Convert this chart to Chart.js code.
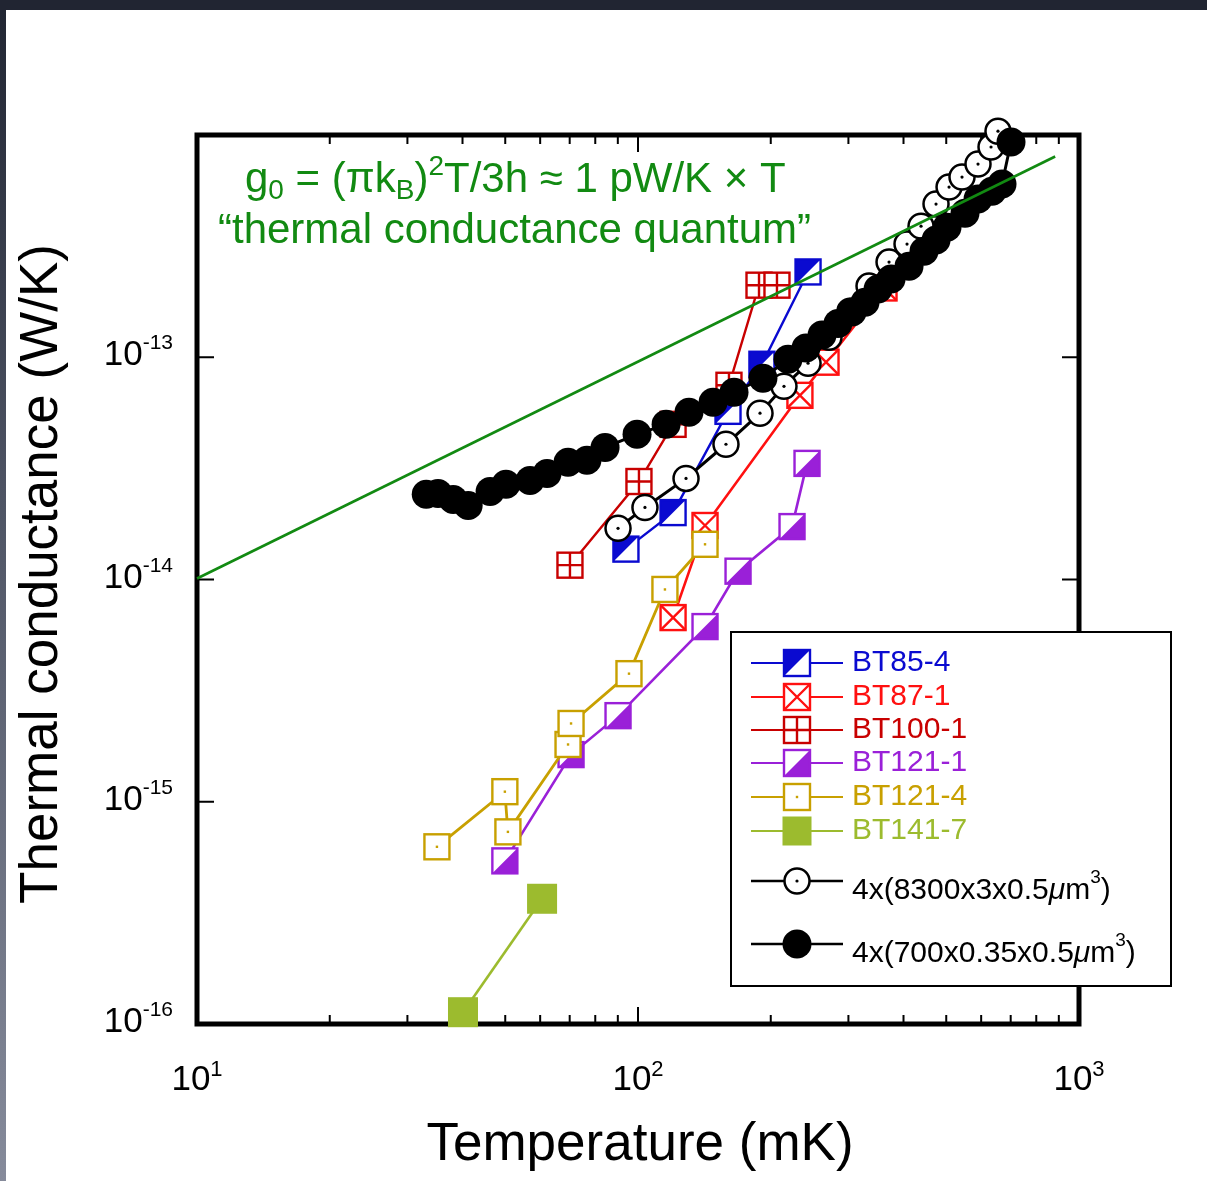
<!DOCTYPE html>
<html>
<head>
<meta charset="utf-8">
<script src="https://cdn.jsdelivr.net/npm/chart.js@4.4.1/dist/chart.umd.min.js"></script>
<style>
  html, body { margin: 0; padding: 0; background: #fff; overflow: hidden; }
  canvas { display: block; }
</style>
</head>
<body>
<canvas id="chart" width="1207" height="1181"></canvas>
<script>
const FONT = '"Liberation Sans", Arial, Helvetica, sans-serif';

// temperature in mK, thermal conductance in W/K
const bt85T = [93.9, 120.1, 160.0, 191.0, 243.0];
const bt85G = [1.37e-14, 2.00e-14, 5.71e-14, 9.30e-14, 2.42e-13];

const bt87T = [120.1, 141.9, 232.9, 266.9, 361.3];
const bt87G = [6.74e-15, 1.75e-14, 6.74e-14, 9.5e-14, 2.05e-13];

const bt100T = [70.1, 100.5, 120.1, 160.8, 188.1, 206.6];
const bt100G = [1.16e-14, 2.76e-14, 4.99e-14, 7.48e-14, 2.11e-13, 2.11e-13];

const bt1211T = [49.9, 70.5, 90.1, 141.9, 168.6, 223.5, 241.7];
const bt1211G = [5.42e-16, 1.63e-15, 2.44e-15, 6.14e-15, 1.09e-14, 1.73e-14, 3.33e-14];

const bt1214T = [35.0, 49.9, 50.7, 69.4, 70.5, 95.4, 115.1, 141.9];
const bt1214G = [6.27e-16, 1.11e-15, 7.32e-16, 1.81e-15, 2.25e-15, 3.77e-15, 9.02e-15, 1.44e-14];

const bt1417T = [40.1, 60.6];
const bt1417G = [1.13e-16, 3.66e-16];

const wideT = [90.1, 103.7, 128.5, 158.3, 189.1, 214.3, 243.0, 271.1, 302.5, 334.1,
               370.9, 407.4, 438.3, 474.0, 507.4, 542.9, 590.2, 631.7, 655.1];
const wideG = [1.70e-14, 2.11e-14, 2.85e-14, 4.06e-14, 5.60e-14, 7.40e-14, 9.40e-14, 1.23e-13, 1.61e-13, 2.09e-13,
               2.68e-13, 3.23e-13, 3.89e-13, 4.89e-13, 5.83e-13, 6.47e-13, 7.40e-13, 8.83e-13, 1.04e-12];

const narrowT = [33.1, 35.2, 38.1, 41.2, 46.2, 50.2, 56.9, 62.2, 69.4, 76.6, 84.2, 99.5,
                 115.8, 130.5, 148.0, 165.1, 192.0, 218.9, 240.4, 261.4, 284.1, 305.7, 327.2,
                 350.2, 374.8, 411.7, 445.2, 474.0, 502.0, 551.4, 590.2, 634.9, 669.0, 701.2];
const narrowG = [2.42e-14, 2.44e-14, 2.29e-14, 2.15e-14, 2.49e-14, 2.68e-14, 2.79e-14, 3.00e-14,
                 3.37e-14, 3.44e-14, 3.93e-14, 4.50e-14, 4.99e-14, 5.65e-14, 6.27e-14, 6.96e-14,
                 8.04e-14, 9.79e-14, 1.10e-13, 1.26e-13, 1.42e-13, 1.60e-13, 1.77e-13, 2.03e-13,
                 2.25e-13, 2.57e-13, 3.00e-13, 3.37e-13, 3.85e-13, 4.45e-13, 5.15e-13, 5.59e-13,
                 6.02e-13, 9.30e-13];

const quantumT = [10, 883];
const quantumG = [1.01e-14, 8.0e-13];

const xTickMajor = [10, 100, 1000];
const xTickMinor = [20, 30, 40, 50, 60, 70, 80, 90, 200, 300, 400, 500, 600, 700, 800, 900];
const yTicks = [1e-16, 1e-15, 1e-14, 1e-13, 1e-12];

function pts(xs, ys) {
  return xs.map((x, i) => ({ x: x, y: ys[i] }));
}

function series(label, xs, ys, color, marker, width, order) {
  return {
    label: label,
    data: pts(xs, ys),
    borderColor: color,
    borderWidth: width,
    showLine: true,
    pointRadius: 0,
    pointHoverRadius: 0,
    clip: false,
    order: order,
    marker: marker,
    markerColor: color
  };
}

const BLUE = '#0a0ad0', RED = '#ff1010', DRED = '#c80000', PURPLE = '#9a20d8',
      GOLD = '#c8a000', OLIVE = '#9cbb2e', GREEN = '#128a12';

const datasets = [
  series('g0', quantumT, quantumG, GREEN, null, 2.6, 0),
  series('4x(700x0.35x0.5µm3)', narrowT, narrowG, '#000', 'circFill', 3, 1),
  series('4x(8300x3x0.5µm3)', wideT, wideG, '#000', 'circDot', 3, 2),
  series('BT121-4', bt1214T, bt1214G, GOLD, 'dot', 2.8, 3),
  series('BT85-4', bt85T, bt85G, BLUE, 'halfUL', 2.4, 4),
  series('BT100-1', bt100T, bt100G, DRED, 'plus', 2.4, 5),
  series('BT87-1', bt87T, bt87G, RED, 'cross', 2.6, 6),
  series('BT121-1', bt1211T, bt1211G, PURPLE, 'halfLR', 2.6, 7),
  series('BT141-7', bt1417T, bt1417G, OLIVE, 'fill', 2.6, 8)
];

function drawMarker(ctx, type, x, y, color, s) {
  ctx.save();
  ctx.lineJoin = 'miter';
  if (type === 'circDot' || type === 'circFill') {
    ctx.beginPath();
    ctx.arc(x, y, type === 'circFill' ? s + 1 : s - 1, 0, Math.PI * 2);
    if (type === 'circFill') {
      ctx.fillStyle = '#000';
      ctx.fill();
    } else {
      ctx.fillStyle = '#fff';
      ctx.fill();
      ctx.lineWidth = 2.5;
      ctx.strokeStyle = '#000';
      ctx.stroke();
      ctx.beginPath();
      ctx.arc(x, y, 1.6, 0, Math.PI * 2);
      ctx.fillStyle = '#000';
      ctx.fill();
    }
    ctx.restore();
    return;
  }
  if (type === 'fill') {
    ctx.fillStyle = color;
    ctx.fillRect(x - s - 0.5, y - s - 0.5, 2 * s + 1, 2 * s + 1);
    ctx.restore();
    return;
  }
  const h = s - 1;
  ctx.fillStyle = '#fff';
  ctx.fillRect(x - h, y - h, 2 * h, 2 * h);
  ctx.fillStyle = color;
  ctx.strokeStyle = color;
  ctx.lineWidth = 2.4;
  if (type === 'halfUL') {
    ctx.beginPath();
    ctx.moveTo(x - h, y - h); ctx.lineTo(x + h, y - h); ctx.lineTo(x - h, y + h);
    ctx.closePath(); ctx.fill();
  } else if (type === 'halfLR') {
    ctx.beginPath();
    ctx.moveTo(x + h, y - h); ctx.lineTo(x + h, y + h); ctx.lineTo(x - h, y + h);
    ctx.closePath(); ctx.fill();
  } else if (type === 'cross') {
    ctx.beginPath();
    ctx.moveTo(x - h, y - h); ctx.lineTo(x + h, y + h);
    ctx.moveTo(x + h, y - h); ctx.lineTo(x - h, y + h);
    ctx.stroke();
  } else if (type === 'plus') {
    ctx.beginPath();
    ctx.moveTo(x, y - h); ctx.lineTo(x, y + h);
    ctx.moveTo(x - h, y); ctx.lineTo(x + h, y);
    ctx.stroke();
  } else if (type === 'dot') {
    ctx.fillRect(x - 1.2, y - 1.2, 2.4, 2.4);
  }
  ctx.strokeRect(x - h, y - h, 2 * h, 2 * h);
  ctx.restore();
}

// text made of runs: [text, size, dy, italic]
function richText(ctx, x, y, parts, align, color) {
  ctx.save();
  ctx.fillStyle = color;
  ctx.textAlign = 'left';
  ctx.textBaseline = 'alphabetic';
  const fontOf = p => (p[3] ? 'italic ' : '') + p[1] + 'px ' + FONT;
  let w = 0;
  parts.forEach(p => { ctx.font = fontOf(p); w += ctx.measureText(p[0]).width; });
  let cx = align === 'center' ? x - w / 2 : align === 'right' ? x - w : x;
  parts.forEach(p => {
    ctx.font = fontOf(p);
    ctx.fillText(p[0], cx, y + p[2]);
    cx += ctx.measureText(p[0]).width;
  });
  ctx.restore();
}

const figurePlugin = {
  id: 'figure',
  beforeDraw(chart) {
    const ctx = chart.ctx;
    ctx.save();
    ctx.fillStyle = '#fff';
    ctx.fillRect(0, 0, chart.width, chart.height);
    const g = ctx.createLinearGradient(0, 0, 0, chart.height);
    g.addColorStop(0, '#212532');
    g.addColorStop(0.4, '#4c5262');
    g.addColorStop(1, '#868b9b');
    ctx.fillStyle = g;
    ctx.fillRect(0, 0, 6, chart.height);
    ctx.fillStyle = '#212532';
    ctx.fillRect(0, 0, chart.width, 10);
    ctx.restore();
  },
  beforeDatasetsDraw(chart) {
    const ctx = chart.ctx;
    const a = chart.chartArea;
    const xs = chart.scales.x, ys = chart.scales.y;
    ctx.save();
    ctx.strokeStyle = '#000';
    ctx.lineWidth = 2;
    ctx.beginPath();
    xTickMajor.concat(xTickMinor).forEach(v => {
      const px = xs.getPixelForValue(v);
      const len = xTickMajor.includes(v) ? 17 : 9;
      ctx.moveTo(px, a.bottom); ctx.lineTo(px, a.bottom - len);
      ctx.moveTo(px, a.top); ctx.lineTo(px, a.top + len);
    });
    yTicks.forEach(v => {
      const py = ys.getPixelForValue(v);
      ctx.moveTo(a.left, py); ctx.lineTo(a.left + 17, py);
      ctx.moveTo(a.right, py); ctx.lineTo(a.right - 17, py);
    });
    ctx.stroke();
    ctx.lineWidth = 5;
    ctx.strokeRect(a.left, a.top, a.right - a.left, a.bottom - a.top);
    ctx.restore();

    xTickMajor.forEach(v => {
      const px = xs.getPixelForValue(v);
      richText(ctx, px, a.bottom + 66, [['10', 35, 0], [String(Math.round(Math.log10(v))), 22, -14]], 'center', '#000');
    });
    yTicks.slice(0, 4).forEach(v => {
      const py = ys.getPixelForValue(v);
      richText(ctx, 173, py + 8, [['10', 35, 0], [String(Math.round(Math.log10(v))), 21, -16]], 'right', '#000');
    });

    ctx.save();
    ctx.fillStyle = '#000';
    ctx.font = '53px ' + FONT;
    ctx.textAlign = 'center';
    ctx.textBaseline = 'alphabetic';
    ctx.fillText('Temperature (mK)', 640, 1160);
    ctx.translate(57, 574);
    ctx.rotate(-Math.PI / 2);
    ctx.fillText('Thermal conductance (W/K)', 0, 0);
    ctx.restore();

    richText(ctx, 245, 192, [
      ['g', 42, 0], ['0', 28, 7], [' = (\u03c0k', 42, 0], ['B', 28, 7], [')', 42, 0],
      ['2', 28, -17], ['T/3h \u2248 1 pW/K \u00d7 T', 42, 0]
    ], 'left', GREEN);
    richText(ctx, 218, 243, [['\u201cthermal conductance quantum\u201d', 42, 0]], 'left', GREEN);
  },
  afterDatasetDraw(chart, args) {
    const ds = chart.data.datasets[args.index];
    if (!ds.marker) return;
    const meta = args.meta;
    const size = ds.marker === 'fill' ? 14.5 : 13.5;
    meta.data.forEach(pt => drawMarker(chart.ctx, ds.marker, pt.x, pt.y, ds.markerColor, size));
  },
  afterDraw(chart) {
    const ctx = chart.ctx;
    ctx.save();
    ctx.fillStyle = '#fff';
    ctx.fillRect(731, 632, 440, 354);
    ctx.strokeStyle = '#000';
    ctx.lineWidth = 2;
    ctx.strokeRect(731, 632, 440, 354);
    ctx.restore();

    const rows = [
      ['BT85-4', BLUE, 'halfUL', 663],
      ['BT87-1', RED, 'cross', 697],
      ['BT100-1', DRED, 'plus', 730],
      ['BT121-1', PURPLE, 'halfLR', 763],
      ['BT121-4', GOLD, 'dot', 797],
      ['BT141-7', OLIVE, 'fill', 831]
    ];
    rows.forEach(r => {
      ctx.save();
      ctx.strokeStyle = r[1];
      ctx.lineWidth = 2;
      ctx.beginPath();
      ctx.moveTo(751, r[3]); ctx.lineTo(843, r[3]);
      ctx.stroke();
      ctx.restore();
      drawMarker(ctx, r[2], 797, r[3], r[1], 14);
      richText(ctx, 852, r[3] + 8, [[r[0], 30, 0]], 'left', r[1]);
    });

    const blackRows = [
      ['circDot', 881, '4x(8300x3x0.5'],
      ['circFill', 944, '4x(700x0.35x0.5']
    ];
    blackRows.forEach(r => {
      ctx.save();
      ctx.strokeStyle = '#000';
      ctx.lineWidth = 2.5;
      ctx.beginPath();
      ctx.moveTo(751, r[1]); ctx.lineTo(843, r[1]);
      ctx.stroke();
      ctx.restore();
      drawMarker(ctx, r[0], 797, r[1], '#000', 13.5);
      richText(ctx, 852, r[1] + 18, [
        [r[2], 30, 0], ['\u03bc', 30, 0, true], ['m', 30, 0], ['3', 19, -16], [')', 30, 0]
      ], 'left', '#000');
    });
  }
};

new Chart(document.getElementById('chart').getContext('2d'), {
  type: 'scatter',
  data: { datasets: datasets },
  options: {
    responsive: false,
    animation: false,
    events: [],
    layout: { padding: { left: 197, top: 135, right: 128, bottom: 157 } },
    scales: {
      x: { type: 'logarithmic', min: 10, max: 1000, display: false },
      y: { type: 'logarithmic', min: 1e-16, max: 1e-12, display: false }
    },
    plugins: {
      legend: { display: false },
      tooltip: { enabled: false }
    }
  },
  plugins: [figurePlugin]
});
</script>
</body>
</html>
